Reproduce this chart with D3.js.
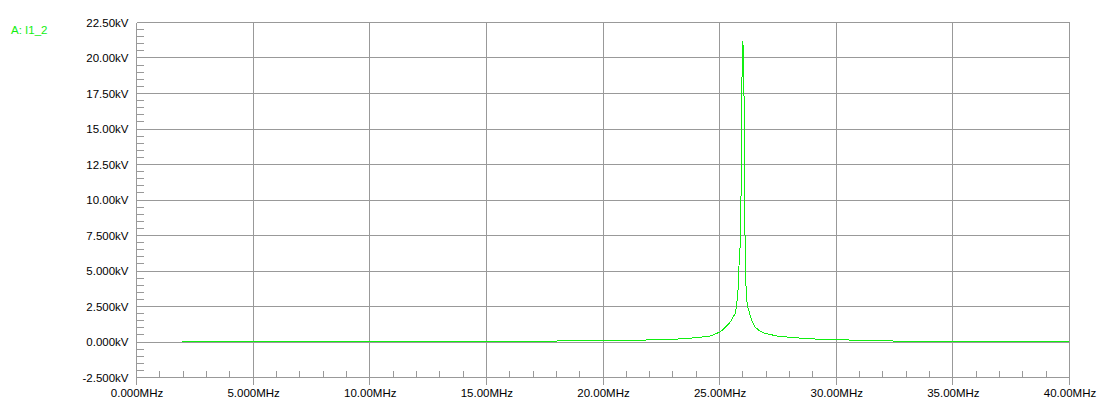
<!DOCTYPE html>
<html>
<head>
<meta charset="utf-8">
<script src="https://cdn.jsdelivr.net/npm/d3@7/dist/d3.min.js"></script>
<style>
  html, body { margin: 0; padding: 0; background: #ffffff; }
  svg { display: block; }
  text { font-family: "Liberation Sans", Arial, sans-serif; font-size: 11.5px; }
</style>
</head>
<body>
<svg id="chart" width="1112" height="420"></svg>
<script>
// ---- Data ----
const seriesName = "A: I1_2";
const freqMHz = [1.93, 8.0, 14.0, 17.3, 19.5, 21.6, 23.0, 23.76, 24.15, 24.65, 24.87, 25.01,
  25.15, 25.29, 25.43, 25.58, 25.68, 25.72, 25.75, 25.79, 25.82, 25.87, 25.88, 25.91,
  25.94, 25.96, 26.00, 26.05, 26.08, 26.11, 26.13, 26.16, 26.22, 26.37, 26.51, 26.72,
  26.94, 27.15, 27.45, 28.01, 28.57, 29.08, 29.64, 31.00, 32.43, 34.87, 40.00];
const voltageKV = [0.03, 0.03, 0.04, 0.06, 0.09, 0.13, 0.19, 0.27, 0.33, 0.44, 0.60, 0.71,
  0.88, 1.13, 1.34, 1.76, 2.04, 2.60, 2.96, 3.67, 5.15, 6.20, 7.19, 9.12,
  13.96, 18.75, 21.20, 16.94, 8.46, 5.20, 4.00, 2.96, 2.38, 1.55, 1.06, 0.78,
  0.61, 0.54, 0.42, 0.33, 0.26, 0.21, 0.18, 0.12, 0.07, 0.05, 0.035];

const xTickValues = [0, 5, 10, 15, 20, 25, 30, 35, 40];
const xTickLabels = ["0.000MHz", "5.000MHz", "10.00MHz", "15.00MHz", "20.00MHz",
  "25.00MHz", "30.00MHz", "35.00MHz", "40.00MHz"];
const yTickValues = [-2.5, 0, 2.5, 5, 7.5, 10, 12.5, 15, 17.5, 20, 22.5];
const yTickLabels = ["-2.500kV", "0.000kV", "2.500kV", "5.000kV", "7.500kV", "10.00kV",
  "12.50kV", "15.00kV", "17.50kV", "20.00kV", "22.50kV"];
const xMinorStep = 1;    // MHz
const yMinorStep = 0.5;  // kV

// ---- Layout ----
const plotLeft = 136.5, plotRight = 1069.5, plotTop = 22.5, plotBottom = 377.5;
const gridColor = "#999999";
const lineColor = "#11ee11";

const svg = d3.select("#chart");
const x = d3.scaleLinear().domain([0, 40]).range([plotLeft, plotRight]);
const y = d3.scaleLinear().domain([-2.5, 22.5]).range([plotBottom, plotTop]);
const snap = v => Math.round(v - 0.5) + 0.5;

const grid = svg.append("g").attr("shape-rendering", "crispEdges")
  .attr("stroke", gridColor).attr("stroke-width", 1);

// horizontal grid lines
grid.selectAll("line.h").data(yTickValues).join("line").attr("class", "h")
  .attr("x1", plotLeft).attr("x2", plotRight)
  .attr("y1", d => snap(y(d))).attr("y2", d => snap(y(d)));

// vertical grid lines (extend below axis as major ticks)
grid.selectAll("line.v").data(xTickValues).join("line").attr("class", "v")
  .attr("x1", d => snap(x(d))).attr("x2", d => snap(x(d)))
  .attr("y1", plotTop).attr("y2", plotBottom + 7);

// minor ticks
const yMinor = d3.range(-2.5, 22.5 + 1e-9, yMinorStep)
  .filter(v => Math.abs(v / 2.5 - Math.round(v / 2.5)) > 1e-6);
grid.selectAll("line.ym").data(yMinor).join("line").attr("class", "ym")
  .attr("x1", plotLeft).attr("x2", plotLeft + 7)
  .attr("y1", d => snap(y(d))).attr("y2", d => snap(y(d)));

const xMinor = d3.range(0, 40 + 1e-9, xMinorStep)
  .filter(v => Math.abs(v / 5 - Math.round(v / 5)) > 1e-6);
grid.selectAll("line.xm").data(xMinor).join("line").attr("class", "xm")
  .attr("x1", d => snap(x(d))).attr("x2", d => snap(x(d)))
  .attr("y1", plotBottom - 7).attr("y2", plotBottom);

// ---- Axes (labels only) ----
const yAxis = d3.axisLeft(y).tickValues(yTickValues)
  .tickFormat((d, i) => yTickLabels[i]).tickSize(0).tickPadding(8);
const gy = svg.append("g").attr("transform", `translate(${plotLeft},0)`).call(yAxis);
gy.select(".domain").remove();
gy.selectAll("text").attr("fill", "#000").style("font-size", "11.5px")
  .style("font-family", "'Liberation Sans', Arial, sans-serif");

const xAxis = d3.axisBottom(x).tickValues(xTickValues)
  .tickFormat((d, i) => xTickLabels[i]).tickSize(0).tickPadding(11.5);
const gx = svg.append("g").attr("transform", `translate(0,${plotBottom})`).call(xAxis);
gx.select(".domain").remove();
gx.selectAll("text").attr("fill", "#000").style("font-size", "11.5px")
  .style("font-family", "'Liberation Sans', Arial, sans-serif");

// ---- Series ----
const pts = freqMHz.map((f, i) => [f, voltageKV[i]]);
const line = d3.line().x(d => x(d[0])).y(d => y(d[1]));
svg.append("path").datum(pts)
  .attr("d", line)
  .attr("fill", "none")
  .attr("stroke", lineColor)
  .attr("stroke-width", 1)
  .attr("shape-rendering", "crispEdges");

// ---- Legend ----
svg.append("text").attr("x", 11).attr("y", 34)
  .attr("fill", lineColor).text(seriesName);
</script>
</body>
</html>
